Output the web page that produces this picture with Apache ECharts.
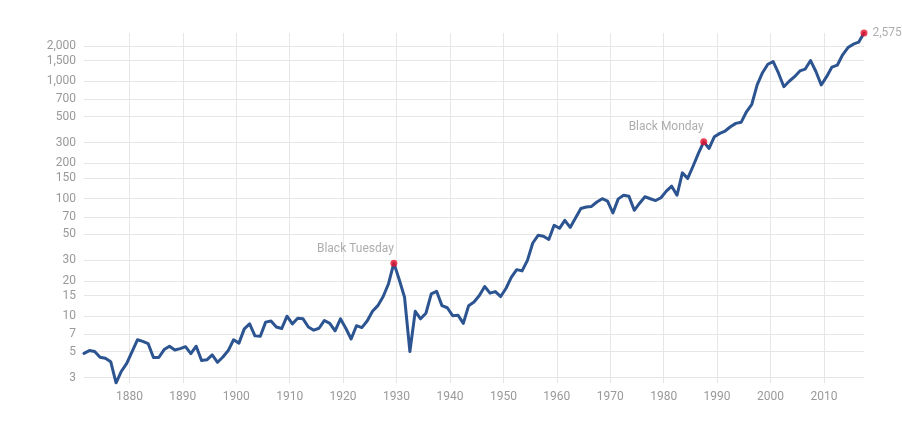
<!DOCTYPE html>
<html>
<head>
<meta charset="utf-8">
<script src="https://cdn.jsdelivr.net/npm/echarts@6/dist/echarts.min.js"></script>
<style>
html,body{margin:0;padding:0;background:#fff;}
#chart{width:902px;height:422px;}
</style>
</head>
<body>
<div id="chart"></div>
<script>
// Annual S&P 500 level, one value per year starting at startYear (plotted at mid-year)
const startYear = 1871;
const values = [
  4.83, 5.1, 5.0, 4.47, 4.38, 4.1, 2.7, 3.4, 3.97,            // 1871-1879
  5.0, 6.3, 6.1, 5.85, 4.45, 4.45, 5.2, 5.55, 5.15, 5.3,       // 1880-1889
  5.5, 4.8, 5.55, 4.2, 4.25, 4.68, 4.05, 4.5, 5.1, 6.3,        // 1890-1899
  5.9, 7.8, 8.6, 6.8, 6.75, 8.9, 9.1, 8.1, 7.85, 10.0,         // 1900-1909
  8.6, 9.6, 9.5, 8.1, 7.6, 7.9, 9.2, 8.7, 7.5, 9.5,            // 1910-1919
  7.9, 6.4, 8.3, 8.0, 9.1, 11.0, 12.3, 14.7, 18.9, 28.3,       // 1920-1929
  20.5, 14.5, 5.0, 11.0, 9.5, 10.6, 15.5, 16.3, 12.3, 11.8,    // 1930-1939
  10.1, 10.2, 8.7, 12.3, 13.2, 15.0, 17.9, 15.7, 16.2, 14.7,   // 1940-1949
  17.3, 21.5, 24.9, 24.3, 29.9, 42, 48.8, 48, 45, 59.4,        // 1950-1959
  56, 65.5, 57, 68.5, 82.5, 85, 86, 93.8, 100, 95.6,           // 1960-1969
  75.6, 99.7, 107, 105, 79.7, 91.6, 104, 100, 96.5, 102,       // 1970-1979
  116, 128, 107, 166, 149, 189, 243, 305, 268, 337,            // 1980-1989
  360, 377, 410, 438, 447, 550, 637, 930, 1183, 1396,          // 1990-1999
  1470, 1170, 899, 1000, 1094, 1225, 1270, 1500, 1210, 930,    // 2000-2009
  1094, 1320, 1370, 1680, 1935, 2070, 2150, 2575               // 2010-2017
];
const yTicks = [3, 5, 7, 10, 15, 20, 30, 50, 70, 100, 150, 200, 300, 500, 700, 1000, 1500, 2000];
const xTicks = [1880, 1890, 1900, 1910, 1920, 1930, 1940, 1950, 1960, 1970, 1980, 1990, 2000, 2010];
const eventYears = [1929, 1987];
const eventNames = ['Black Tuesday', 'Black Monday'];

const years = values.map((v, i) => startYear + i);
const lineData = years.map((y, i) => [y + 0.5, values[i]]);
const lastIdx = values.length - 1;

const eventData = eventYears.map((y, k) => ({
  value: [y + 0.5, values[y - startYear]],
  label: { show: true, position: 'top', align: 'right', formatter: eventNames[k] }
}));
eventData.push({
  value: [years[lastIdx] + 0.5, values[lastIdx]],
  label: { show: true, position: 'right', distance: 5, align: 'left',
           formatter: () => values[lastIdx].toLocaleString('en-US') }
});

const gray = '#999999';
const chart = echarts.init(document.getElementById('chart'), null, { renderer: 'canvas' });
chart.setOption({
  animation: false,
  backgroundColor: '#ffffff',
  textStyle: { fontFamily: 'Roboto, "Liberation Sans", Arial, sans-serif' },
  grid: { left: 84, right: 38, top: 33, bottom: 39, containLabel: false, outerBoundsMode: 'none' },
  xAxis: {
    type: 'value',
    min: years[0] + 0.5,
    max: years[lastIdx] + 0.5,
    axisLine: { show: false },
    axisTick: { show: false, customValues: xTicks },
    axisLabel: { customValues: xTicks, color: gray, fontSize: 12, margin: 8, formatter: v => String(v) },
    splitLine: { show: true, lineStyle: { color: '#e6e6e6', width: 1 } }
  },
  yAxis: {
    type: 'log',
    logBase: 10,
    min: 'dataMin',
    max: 'dataMax',
    axisLine: { show: false },
    axisTick: { show: false, customValues: yTicks },
    axisLabel: { customValues: yTicks, color: gray, fontSize: 12, margin: 8,
                 formatter: v => Number(v).toLocaleString('en-US') },
    splitLine: { show: true, lineStyle: { color: '#e6e6e6', width: 1 } }
  },
  series: [
    {
      type: 'line',
      data: lineData,
      showSymbol: false,
      silent: true,
      lineStyle: { color: '#2c5490', width: 3, join: 'round', cap: 'round' },
      z: 2
    },
    {
      type: 'scatter',
      data: eventData,
      symbol: 'circle',
      symbolSize: 7,
      silent: true,
      itemStyle: { color: '#e8102a' },
      label: { color: gray, fontSize: 12 },
      z: 3
    }
  ]
});
</script>
</body>
</html>
